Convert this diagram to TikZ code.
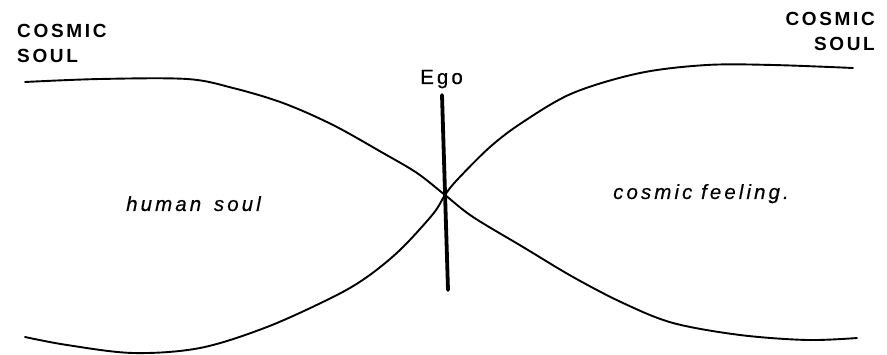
\documentclass[tikz,border=0pt]{standalone}
\usepackage{fontspec}
\setsansfont{Liberation Sans}
\newfontfamily\spacedfont[LetterSpace=15, FakeBold=0.4]{Liberation Sans}
\newfontfamily\capsfont[LetterSpace=14]{Liberation Sans}
\usetikzlibrary{positioning}

\begin{document}
\begin{tikzpicture}[x=1pt,y=-1pt,
        soulline/.style={line width=1.9pt, line cap=round},
        egoline/.style={line width=3.8pt, line cap=round},
        capslabel/.style={inner sep=0pt, font=\capsfont\bfseries\fontsize{19}{25}\selectfont},
        textlabel/.style={inner sep=0pt, font=\spacedfont\fontsize{20.5}{24}\selectfont}]
                \useasboundingbox (0,0) rectangle (887,355);
                \draw[soulline, smooth, tension=0.55] plot coordinates {
                    (25,82) (100,79) (187,79) (233,88) (283,103) (333,125) (383,153) (417,173)
                    (445,195) (473,217) (523,247) (573,277) (623,303) (673,323) (740,335) (807,340) (857,338)};
                \draw[soulline, smooth, tension=0.55] plot coordinates {
                    (25,337) (67,345) (133,353) (200,348) (267,327) (333,297) (367,277) (400,250) (433,214)
                    (445,195) (457,180) (490,147) (523,122) (573,93) (640,73) (707,65) (773,65) (853,68)};
                \coordinate (egotop) at (442,95);
                \coordinate (egobot) at (448,290);
                \draw[egoline] (egotop) -- (egobot);
                \node[textlabel, anchor=base west] (ego) at (420,84) {Ego};
                \node[capslabel, anchor=north west, align=left] (soulleft) at (17,24) {COSMIC\\SOUL};
                \node[capslabel, anchor=north east, align=right] (soulright) at (875,12) {COSMIC\\SOUL};
                \node[textlabel, anchor=base west] (human) at (126,211) {\itshape human\hspace{4pt} soul};
                \node[textlabel, anchor=base west] (feeling) at (613,199) {\itshape cosmic feeling.};
            \end{tikzpicture}
\end{document}
